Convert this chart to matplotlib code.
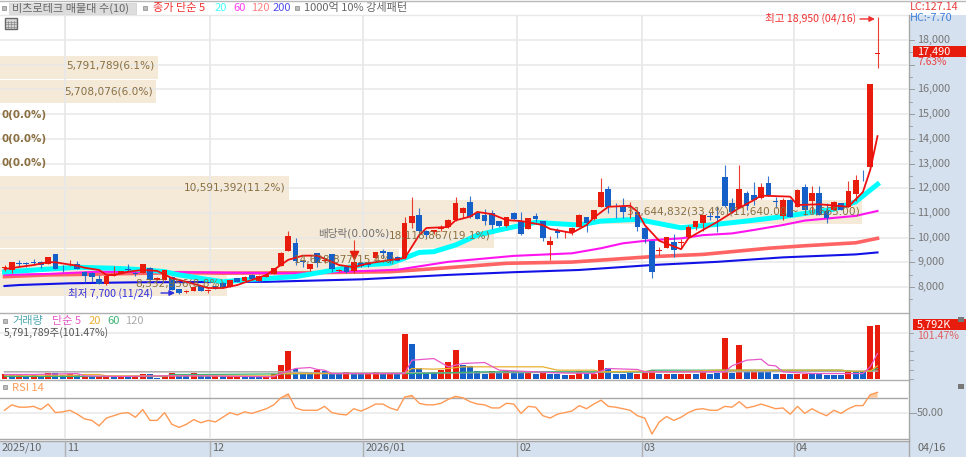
import numpy as np
import matplotlib
matplotlib.use('Agg')
import matplotlib.pyplot as plt
from matplotlib.patches import Rectangle

plt.rcParams['font.family'] = ['Noto Sans CJK KR', 'DejaVu Sans']

W, H = 966, 457

# 일봉 데이터
open_ = [8750, 8690, 8980, 8960, 9020, 9000, 8920, 9320, 8820, 8900,
         8920, 8620, 8570, 8320, 8120, 8440, 8530, 8730, 8580, 8580,
         8780, 8300, 8280, 8420, 7900, 7790, 7850, 8050, 7840, 8040,
         8170, 8010, 8350, 8240, 8490, 8260, 8400, 8530, 8850, 9460,
         9770, 9040, 8730, 9365, 9050, 9340, 8650, 8820, 8650, 8960,
         8960, 9160, 9470, 9400, 9230, 9160, 10600, 10920, 10280, 10230,
         10330, 10430, 10710, 11010, 11430, 11010, 10920, 10980, 10670, 10470,
         11010, 10690, 10350, 10880, 10670, 9710, 10270, 10180, 10240, 10440,
         10820, 10740, 11250, 11960, 11270, 11290, 11150, 11050, 10400, 9860,
         9450, 9570, 9830, 9800, 10010, 10440, 10600, 10880, 10870, 12460,
         11390, 11210, 11790, 11730, 11590, 12220, 11470, 10890, 11520, 11250,
         12060, 11490, 11820, 11090, 11120, 11390, 11250, 11750, 12510, 12840,
         17450]
high = [8880, 9020, 9090, 9020, 9130, 9040, 9220, 9330, 8900, 9090,
        9050, 8630, 8590, 8490, 8460, 8860, 8660, 8920, 8620, 8940,
        8790, 8400, 8700, 8440, 7910, 7860, 8020, 8060, 7900, 8060,
        8190, 8300, 8370, 8430, 8510, 8470, 8560, 8780, 9400, 10280,
        10000, 9060, 8940, 9380, 9130, 9350, 8730, 8840, 9900, 9000,
        9020, 9420, 9550, 9420, 9250, 10850, 11660, 11200, 10300, 10320,
        10500, 10750, 11660, 11220, 11670, 11020, 11150, 11100, 10680, 10830,
        11050, 11050, 10810, 11000, 10680, 10080, 10400, 10250, 10430, 10950,
        10850, 11130, 12400, 12090, 11420, 11600, 11450, 11100, 10420, 9870,
        9600, 10040, 10150, 9950, 10500, 10680, 10900, 11050, 11300, 12960,
        11600, 12940, 11900, 12260, 12200, 12500, 11650, 11600, 11560, 11950,
        12170, 12100, 12100, 11400, 11500, 11420, 12300, 12540, 12740, 16230,
        18950]
low = [8650, 8580, 8820, 8820, 8890, 8760, 8920, 8730, 8620, 8840,
       8720, 8160, 8200, 8110, 8100, 8430, 8520, 8640, 8440, 8570,
       8280, 8280, 8270, 7880, 7700, 7760, 7840, 7850, 7760, 7900,
       7960, 8000, 8210, 8230, 8310, 8250, 8390, 8520, 8840, 9440,
       8890, 8800, 8640, 8800, 8980, 8600, 8620, 8560, 8560, 8800,
       8800, 9140, 9180, 8980, 9050, 9150, 10400, 10200, 10000, 10150,
       10250, 10400, 10690, 10800, 10800, 10740, 10510, 10350, 10430, 10450,
       10700, 10090, 10340, 10620, 9875, 9090, 9980, 10000, 10100, 10430,
       10240, 10700, 11230, 10980, 10790, 10790, 10800, 10250, 9800, 8380,
       9300, 9560, 9230, 9600, 10000, 10300, 10250, 10700, 10240, 11250,
       11000, 11200, 11100, 11320, 11580, 11700, 11200, 10700, 10820, 11240,
       10900, 11000, 10900, 10600, 11100, 11110, 11240, 11500, 12300, 12800,
       16880]
close = [8790, 9000, 8950, 8920, 8980, 8890, 9200, 8730, 8790, 8930,
         8730, 8440, 8420, 8110, 8460, 8510, 8650, 8670, 8510, 8920,
         8280, 8380, 8690, 7880, 7750, 7820, 8000, 7850, 7860, 7900,
         7960, 8280, 8210, 8420, 8310, 8460, 8480, 8760, 9390, 10080,
         9065, 9000, 8920, 8985, 9110, 8720, 8700, 8620, 9020, 8860,
         8880, 9400, 9390, 9065, 9065, 10600, 10880, 10280, 10100, 10300,
         10400, 10700, 11390, 11210, 10820, 10750, 10690, 10500, 10470, 10820,
         10750, 10130, 10800, 10750, 9970, 9860, 10200, 10200, 10400, 10920,
         10580, 11120, 11860, 11250, 11230, 11020, 11170, 10440, 9940, 8620,
         9500, 10040, 9500, 9830, 10440, 10680, 10900, 10830, 10800, 11290,
         11050, 11950, 11290, 11520, 12060, 11730, 11430, 11520, 10840, 11930,
         11120, 11820, 10920, 10780, 11450, 11120, 11890, 12330, 12490, 16230,
         17490]

# 이동평균 꼭짓점 (봉 번호, 가격)
ma5_idx = [0, 4, 6, 7, 10, 11, 13, 14, 15, 17, 19, 21, 23, 25, 28, 30, 32, 36, 37, 39, 41, 43,
           46, 48, 50, 53, 55, 57, 58, 61, 62, 64, 65, 67, 69, 71, 74, 75, 78, 80, 81, 83,
           86, 87, 88, 90, 93, 94, 96, 98, 101, 103, 104, 108, 109, 112, 116, 118, 119, 120]
ma5 = [8730, 8890, 9010, 9000, 8860, 8780, 8690, 8490, 8480, 8620, 8690, 8650, 8360, 8210, 7960,
       7960, 8080, 8490, 8690, 9100, 9270, 9270, 8890, 8800, 8960, 9090, 9170, 10100, 10390,
       10430, 10700, 10850, 11040, 10950, 10710, 10670, 10510, 10350, 10190, 10510, 10810, 11250,
       11290, 11050, 10510, 9870, 9530, 9970, 10310, 10640, 11200, 11520, 11700, 11660, 11320,
       11350, 11250, 11850, 12740, 14110]
ma20_idx = [0, 10, 15, 19, 22, 24, 30, 34, 40, 44, 49, 53, 55, 57, 59, 62, 65, 68, 73, 75, 79,
            82, 87, 91, 93, 97, 102, 107, 110, 114, 117, 120]
ma20 = [8610, 8800, 8760, 8700, 8620, 8490, 8210, 8310, 8420, 8620, 8890, 8960, 9170, 9400, 9430,
        9700, 10100, 10310, 10620, 10580, 10510, 10670, 10740, 10510, 10400, 10510, 10670, 10850,
        10980, 11150, 11450, 12160]
ma60_idx = [0, 6, 13, 24, 41, 54, 61, 70, 78, 82, 85, 89, 93, 96, 100, 103, 107, 110, 117, 120]
ma60 = [8490, 8530, 8620, 8600, 8550, 8700, 9020, 9260, 9365, 9570, 9770, 9900, 9970, 10100,
        10170, 10310, 10510, 10690, 10880, 11080]
ma120_idx = [0, 6, 18, 24, 30, 43, 53, 60, 69, 78, 82, 89, 96, 105, 110, 117, 120]
ma120 = [8420, 8490, 8550, 8580, 8560, 8580, 8620, 8760, 8960, 9010, 9090, 9230, 9320, 9570,
         9670, 9790, 9970]
ma200_idx = [0, 2, 9, 18, 36, 49, 61, 70, 79, 89, 98, 107, 117, 120]
ma200 = [8040, 8080, 8150, 8190, 8210, 8310, 8490, 8600, 8690, 8890, 9020, 9200, 9320, 9400]

# 거래량 (천주), r=상승 b=하락
volume = [540, 435, 470, 290, 435, 325, 650, 650, 360, 540,
          360, 290, 290, 290, 290, 250, 220, 180, 180, 470,
          470, 70, 290, 650, 290, 290, 650, 290, 290, 250,
          250, 250, 220, 180, 180, 180, 180, 540, 1450, 2970,
          1085, 435, 435, 905, 795, 435, 540, 725, 540, 435,
          540, 725, 435, 540, 435, 4815, 3730, 1195, 725, 615,
          905, 1810, 3150, 1450, 1340, 795, 540, 795, 725, 905,
          795, 580, 795, 540, 725, 540, 540, 360, 360, 795,
          540, 540, 1990, 1195, 540, 540, 615, 540, 615, 905,
          435, 435, 435, 540, 540, 540, 905, 540, 615, 4415,
          615, 3620, 725, 905, 795, 795, 435, 435, 540, 540,
          540, 540, 505, 360, 360, 360, 795, 725, 725, 5708,
          5792]
vol_color = ('rbrbrbrbbrbrbrrbrbrrbbrrbbrbbrbrrbbbrrrrbbbr'[:44]
             + 'bbbrbbrrbrbrbbbbrrrbbbbrbrbbrbrbbbrrbrrbbbbr'
             + 'rrbrbrrbrbbrbrbrbbbrbrrbbbbbrbbrr')

vol5_idx = [0, 4, 6, 10, 11, 16, 22, 27, 37, 38, 40, 42, 43, 44, 45, 55, 56, 59, 61, 63, 66, 68,
            76, 81, 83, 87, 88, 99, 100, 102, 104, 105, 106, 107, 111, 118, 119, 120]
vol5 = [435, 435, 470, 540, 290, 220, 290, 290, 180, 540, 1085, 1195, 980, 905, 540, 540, 1990,
        2170, 1270, 1630, 1740, 905, 615, 540, 1085, 980, 725, 725, 1375, 1990, 2100, 1450, 1375,
        725, 540, 540, 1270, 2715]
vol20_idx = [0, 10, 11, 13, 14, 37, 38, 43, 55, 56, 59, 61, 63, 74, 76, 81, 82, 87, 92, 98, 115,
             116, 119, 120]
vol20 = [360, 360, 435, 435, 290, 290, 540, 540, 540, 1085, 1015, 1085, 1270, 1270, 905, 905, 725,
         795, 725, 905, 905, 795, 795, 1375]
vol60_idx = [0, 22, 23, 27, 44, 57, 66, 88, 89, 115, 117, 119, 120]
vol60 = [220, 220, 435, 435, 540, 540, 725, 725, 905, 905, 725, 795, 1085]
vol120_idx = [0, 38, 44, 88, 120]
vol120 = [725, 725, 580, 700, 800]

rsi = [54, 61, 58, 58, 59, 55, 62, 51, 52, 54, 49, 43, 41, 34, 44, 47, 50, 51, 45, 55,
       41, 41, 51, 36, 32, 36, 42, 38, 41, 39, 45, 51, 48, 52, 50, 53, 56, 61, 70, 75,
       57, 54, 54, 54, 59, 51, 49, 48, 56, 53, 57, 62, 62, 57, 54, 71, 73, 63, 61, 61,
       63, 68, 72, 70, 65, 62, 61, 57, 57, 63, 62, 50, 59, 58, 47, 44, 49, 51, 53, 60,
       56, 62, 67, 59, 58, 56, 54, 47, 44, 23.5, 39, 46, 41, 45, 51, 55, 56, 54, 54, 59,
       58, 65, 57, 59, 62, 59, 56, 57, 49, 59, 50, 56, 51, 47, 54, 50, 56, 60, 60, 74, 77]

# 매물대
profile_low = [7640, 8614, 9588, 10562, 11536, 12510, 13484, 14458, 15432, 16406]
profile_vol = [8332956, 14628877, 18118867, 31644832, 10591392, 0, 0, 0, 5708076, 5791789]
profile_pct = ['8.8', '15.4', '19.1', '33.4', '11.2', '0.0', '0.0', '0.0', '6.0', '6.1']

price_ticks = list(range(8000, 19000, 1000))
month_pos = [8.3, 28.3, 49.3, 70.5, 87.6, 108.5]
month_labels = ['11', '12', '2026/01', '02', '03', '04']

RED = '#E81C0C'
BLUE = '#1560C8'
GRID = '#E8E8E8'
PANEL = '#D5E1EE'
BROWN = '#8A7040'
LATIN = ['DejaVu Sans', 'Noto Sans CJK KR']


def axes_px(left, top, right, bottom):
    return fig.add_axes([left / W, 1 - bottom / H, (right - left) / W, (bottom - top) / H])


def px_to_idx(x):
    return (x - 4.5) / 7.275


fig = plt.figure(figsize=(W / 100, H / 100), dpi=100, facecolor='white')

# 바탕 (오른쪽 축, 아래 날짜 띠)
bg = fig.add_axes([0, 0, 1, 1], zorder=0)
bg.set_xlim(0, W)
bg.set_ylim(H, 0)
bg.axis('off')
bg.add_patch(Rectangle((909, 15), 57, 442, fc=PANEL, ec='none'))
bg.add_patch(Rectangle((0, 441), 966, 16, fc=PANEL, ec='none'))

xlim = (px_to_idx(0), px_to_idx(908))
x = np.arange(len(close))

# 가격 패널
ax = axes_px(0, 15, 908, 312)
ax.set_xlim(xlim)
ax.set_ylim(8000 - 25 * 40.5, 8000 + 272 * 40.5)

# 매물대는 거래량 스케일의 별도 x축
prof = ax.twiny()
prof.set_xlim(0, 908 / 27.25 * 1e6)
prof.axis('off')
ax.set_zorder(3)
prof.set_zorder(2)
prof.patch.set_alpha(0)
ax.patch.set_alpha(0)
prof.barh(profile_low, profile_vol, height=944, align='edge', color='#F5E9D8', zorder=1)

for y in price_ticks:
    ax.axhline(y, color=GRID, lw=1.1, zorder=0.5)
for m in month_pos:
    ax.axvline(m, color=GRID, lw=1.3, zorder=0.5)

ax.plot(ma200_idx, ma200, color='#1212E6', lw=1.5, zorder=2)
ax.plot(ma120_idx, ma120, color='#FF6464', lw=2.6, zorder=2.1)
ax.plot(ma60_idx, ma60, color='#FF14F0', lw=1.5, zorder=2.2)
ax.plot(ma20_idx, ma20, color='#00FFFF', lw=3.6, zorder=2.3)

for i in x:
    up = close[i] >= open_[i]
    c = RED if up else BLUE
    ax.vlines(i, low[i], high[i], color=c, lw=0.8, alpha=0.85, zorder=3)
    lo_b, hi_b = sorted((open_[i], close[i]))
    ax.bar(i, hi_b - lo_b, bottom=lo_b, width=0.78, color=c, lw=0, zorder=3.1)
ax.plot(ma5_idx, ma5, color='#EE1010', lw=1.3, zorder=3.5)
ax.scatter([48], [9310], marker='v', s=34, color=RED, zorder=3.6)

ax.set_xticks([])
ax.set_yticks([])
for s in ax.spines.values():
    s.set_visible(False)

# 거래량 패널
ax_v = axes_px(0, 313, 908, 378.5)
ax_v.set_zorder(2)
ax_v.patch.set_alpha(0)
ax_v.set_xlim(xlim)
ax_v.set_ylim(0, 65.5 * 108.7)
ax_v.axhline(5000, color=GRID, lw=1.1, zorder=0.5)
for m in month_pos:
    ax_v.axvline(m, color=GRID, lw=1.3, zorder=0.5)
ax_v.bar(x, volume, width=0.82, lw=0, zorder=2,
         color=[RED if c == 'r' else BLUE for c in vol_color])
ax_v.plot(vol120_idx, vol120, color='#AAAAAA', lw=1.1, zorder=2.5)
ax_v.plot(vol60_idx, vol60, color='#3CB371', lw=0.9, zorder=2.6)
ax_v.plot(vol20_idx, vol20, color='#E8B030', lw=0.9, zorder=2.7)
ax_v.plot(vol5_idx, vol5, color='#E858C8', lw=0.9, zorder=2.8)
ax_v.set_xticks([])
ax_v.set_yticks([])
for s in ax_v.spines.values():
    s.set_visible(False)

# RSI 패널
ax_r = axes_px(0, 380.7, 908, 438.3)
ax_r.set_zorder(2)
ax_r.patch.set_alpha(0)
ax_r.set_xlim(xlim)
ax_r.set_ylim(18, 92)
ax_r.axhline(50, color=GRID, lw=1.1, zorder=0.5)
ax_r.axhline(70, color='#A8A8A8', lw=1.0, zorder=1)
for m in month_pos:
    ax_r.axvline(m, color=GRID, lw=1.3, zorder=0.5)
rsi_arr = np.array(rsi, dtype=float)
ax_r.fill_between(x, 70, rsi_arr, where=rsi_arr >= 70, interpolate=True, color='#FFC9A0', lw=0, zorder=1.5)
ax_r.plot(x, rsi, color='#FF9A55', lw=1.0, zorder=2)
ax_r.set_xticks([])
ax_r.set_yticks([])
for s in ax_r.spines.values():
    s.set_visible(False)

# 글자와 선은 픽셀 좌표의 덧그림 축에
ov = fig.add_axes([0, 0, 1, 1], zorder=5)
ov.set_xlim(0, W)
ov.set_ylim(H, 0)
ov.axis('off')


def label(px, py, s, color='#666666', size=7.6, ha='left', **kw):
    return ov.text(px, py, s, color=color, fontsize=size, ha=ha, va='center', **kw)


def square(px, py):
    ov.add_patch(Rectangle((px, py), 4, 4, fc='#BDBDBD', ec='#888888', lw=0.5))


# 패널 경계선
ov.plot([0, 966], [0.5, 0.5], color='#B8B8B8', lw=1)
for yy, col in [(15, GRID), (312.5, '#B0B0B0'), (380, '#B0B0B0'), (438.5, '#A8A8A8'), (441, '#A8A8A8')]:
    ov.plot([0, 909], [yy, yy], color=col, lw=1)
ov.plot([909, 909], [15, 441], color='#A8A8A8', lw=1)
ov.plot([909, 909], [441, 457], color='#A8A8A8', lw=1)
for m in month_pos:
    mx = 4.5 + 7.275 * m
    ov.plot([mx, mx], [441, 457], color='#B0B0B0', lw=1)

# 상단 범례
ov.add_patch(Rectangle((9, 3), 127, 11, fc='#DDDDDD', ec='#CCCCCC', lw=0.5))
square(2, 6)
label(12.5, 8, '비츠로테크 매물대 수(10)', '#666666', 8)
square(143, 6)
label(153, 8, '종가 단순 5', '#F03030', 8)
label(215, 8, '20', '#40FFFF', 8)
label(233, 8, '60', '#FF40F0', 8)
label(251, 8, '120', '#FF8080', 8)
label(273, 8, '200', '#5050F0', 8)
square(295, 6)
label(304, 8, '1000억 10% 강세패턴', '#666666', 8)

# 표 아이콘
ov.add_patch(Rectangle((4.5, 18), 12, 11, fc='#D8D8D8', ec='#666666', lw=1))
for gx in (8, 11, 14):
    ov.plot([gx, gx], [21, 28], color='#888888', lw=0.5)
for gy in (21.5, 24, 26.5):
    ov.plot([6, 15.5], [gy, gy], color='#888888', lw=0.5)

# 매물대 글자
prof_y = [284, 260, 236, 212, 187, 163, 139, 115, 91, 66]
for v, pct, yy in zip(profile_vol, profile_pct, prof_y):
    s = f'{v:,}({pct}%)'
    if pct == '33.4':
        s += '(11,640.00 ~ 10,665.00)'
    if v == 0:
        label(2, yy, s, BROWN, 7.4, family=LATIN, fontweight='bold')
    else:
        label(v / 1e6 * 27.25 - 3, yy, s, BROWN, 7.6, ha='right', family=LATIN)

label(318, 233, '배당락(0.00%)', '#6E6E6E', 7.6, family=LATIN)

label(856, 18.5, '최고 18,950 (04/16)', '#F03030', 7.6, ha='right')
ov.annotate('', xy=(875, 19), xytext=(860, 19),
            arrowprops=dict(arrowstyle='-|>', color='#F03030', lw=1, mutation_scale=8, shrinkA=0, shrinkB=0))
label(68, 293, '최저 7,700 (11/24)', '#3030E0', 7.6)
ov.annotate('', xy=(175, 293), xytext=(161, 293),
            arrowprops=dict(arrowstyle='-|>', color='#3030E0', lw=1, mutation_scale=8, shrinkA=0, shrinkB=0))

# 거래량, RSI 범례
square(3, 319)
label(12.5, 321, '거래량', '#50A8B0', 8)
label(52, 321, '단순 5', '#E858C8', 8)
label(89, 321, '20', '#E8B030', 8)
label(107, 321, '60', '#3CB371', 8)
label(125, 321, '120', '#AAAAAA', 8)
label(4, 332.5, '5,791,789주(101.47%)', '#555555', 7.6)
square(3, 385)
label(12.5, 388, 'RSI 14', '#FF9A55', 8)

# 오른쪽 축 (17,000 자리는 현재가 박스가 덮음)
for p in price_ticks:
    py = 287 - (p - 8000) * 0.0247
    ov.plot([909, 914], [py, py], color='#9A9A9A', lw=0.7)
    ov.plot([909, 912], [py + 12.35, py + 12.35], color='#9A9A9A', lw=0.6)
    if p not in (17000,):
        label(917, py, f'{p:,}', '#777777', 7.8)

label(910, 6.5, 'LC:127.14', '#E84040', 7.8)
label(910, 18, 'HC:-7.70', '#4080D8', 7.8)
ov.add_patch(Rectangle((913, 46), 53, 11, fc=RED, ec='none'))
label(917, 51.5, '17,490', 'white', 7.8)
label(917, 62, '7.63%', '#E84040', 7.4)

ov.add_patch(Rectangle((913, 319), 53, 11, fc=RED, ec='none'))
label(917, 324.5, '5,792K', 'white', 7.8)
label(917, 336, '101.47%', '#E06060', 7.6)
for py in (332.5, 351, 360, 369.5, 378.5):
    ov.plot([909, 913], [py, py], color='#9A9A9A', lw=0.6)
ov.add_patch(Rectangle((958, 317), 6, 5, fc='#777777', ec='none'))
ov.add_patch(Rectangle((958, 384), 6, 5, fc='#777777', ec='none'))

ov.plot([909, 916], [413.3, 413.3], color='#9A9A9A', lw=0.7)
label(917, 413, '50.00', '#777777', 7.8)

# 날짜
label(2, 448, '2025/10', '#666666', 7.8)
for m, s in zip(month_pos, month_labels):
    label(4.5 + 7.275 * m + 2, 448, s, '#666666', 7.8)
label(917, 448, '04/16', '#666666', 7.8)

fig.savefig('out.png', dpi=100)
